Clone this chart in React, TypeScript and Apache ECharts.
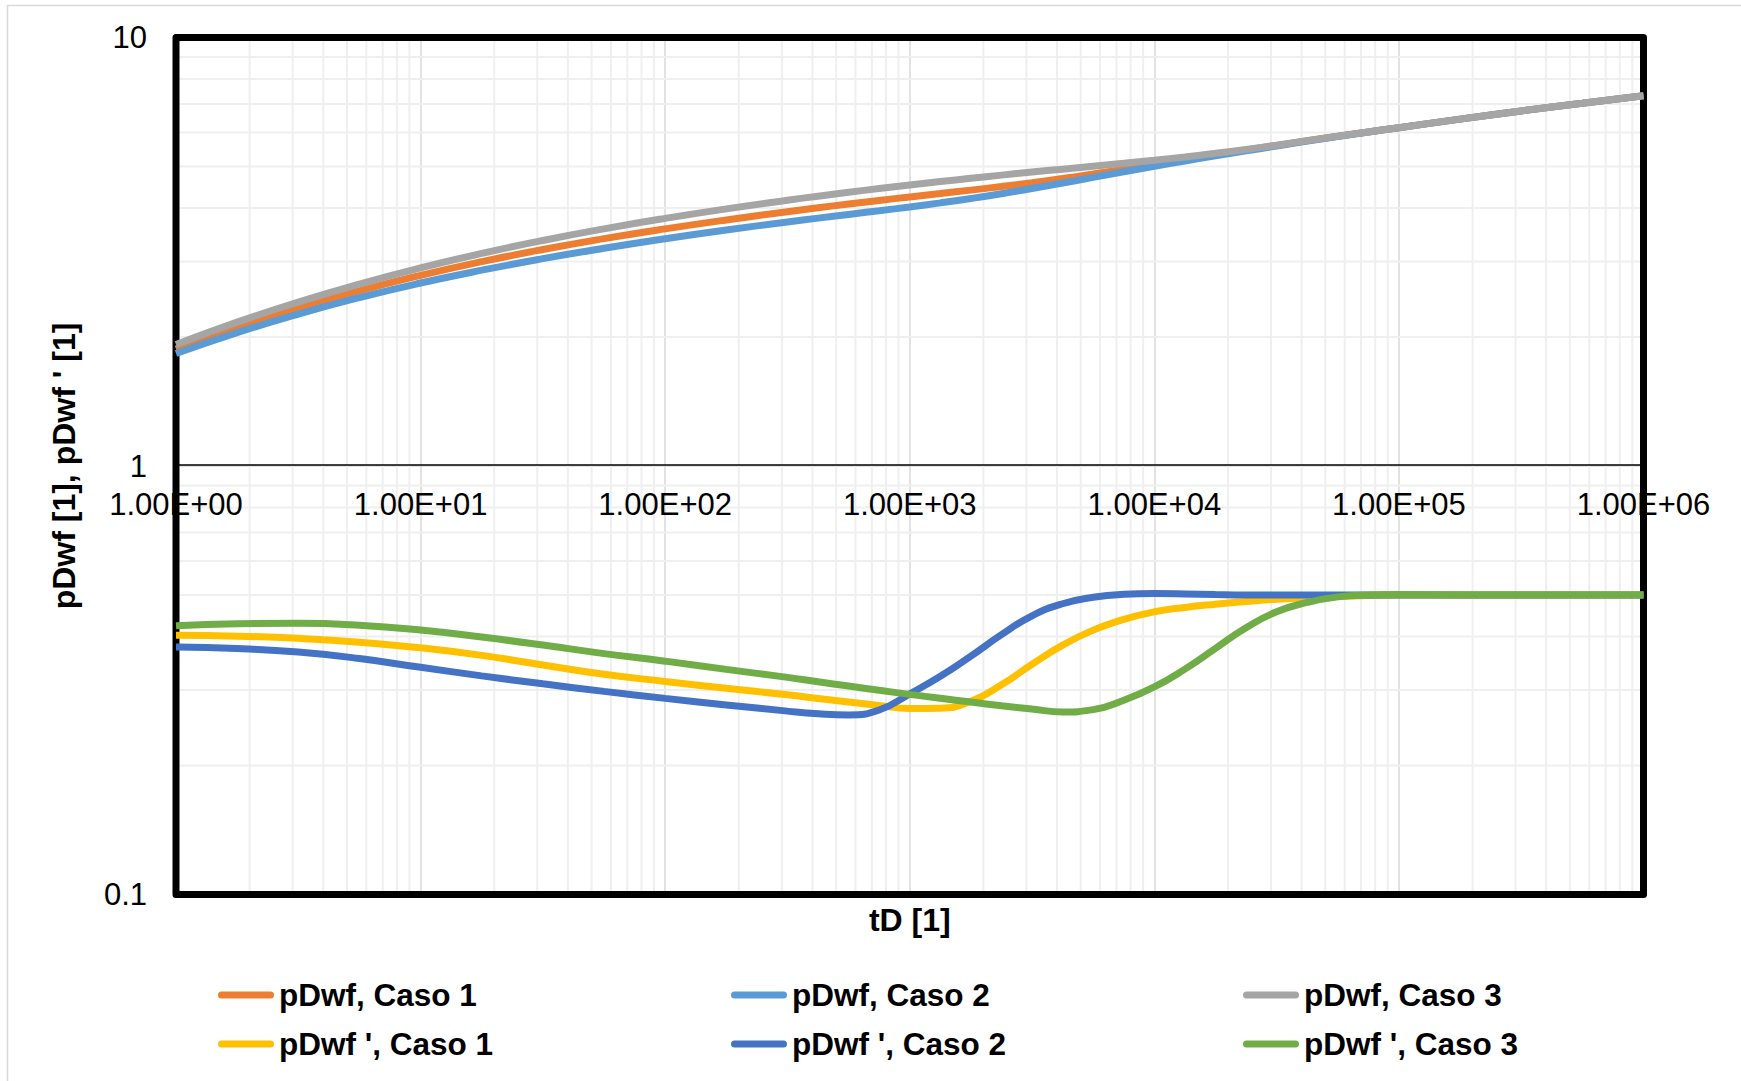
import React, { useEffect, useRef } from 'react';
import * as echarts from 'echarts';

// ---- data ----
const tD = [1, 1.778, 3.162, 5.623, 10, 17.78, 31.62, 56.23, 100, 177.8, 316.2, 421.7, 562.3, 749.9, 1000, 1334, 1778, 2371, 3162, 4217, 5623, 7499, 10000, 13335, 17783, 23714, 31623, 42170, 56234, 74989, 100000, 177828, 316228, 562341, 1000000];

const pDwfCaso1 = [1.875, 2.107, 2.337, 2.564, 2.785, 2.998, 3.201, 3.393, 3.576, 3.752, 3.922, 4.005, 4.086, 4.167, 4.246, 4.324, 4.404, 4.489, 4.582, 4.686, 4.801, 4.925, 5.055, 5.188, 5.325, 5.463, 5.6, 5.74, 5.88, 6.02, 6.16, 6.45, 6.74, 7.02, 7.31];
const pDwfCaso2 = [1.83, 2.047, 2.262, 2.472, 2.673, 2.864, 3.047, 3.222, 3.391, 3.554, 3.712, 3.789, 3.865, 3.942, 4.023, 4.112, 4.21, 4.32, 4.443, 4.576, 4.716, 4.86, 5.005, 5.15, 5.294, 5.438, 5.582, 5.73, 5.875, 6.02, 6.16, 6.45, 6.74, 7.02, 7.31];
const pDwfCaso3 = [1.92, 2.166, 2.413, 2.659, 2.9, 3.134, 3.36, 3.576, 3.783, 3.981, 4.171, 4.263, 4.353, 4.441, 4.527, 4.611, 4.693, 4.773, 4.852, 4.929, 5.006, 5.086, 5.171, 5.263, 5.366, 5.48, 5.606, 5.745, 5.885, 6.02, 6.16, 6.45, 6.74, 7.02, 7.31];

const pDwfDerCaso1 = [0.403, 0.4008, 0.3961, 0.3881, 0.3764, 0.3614, 0.3433, 0.3266, 0.3142, 0.3028, 0.2924, 0.2868, 0.2813, 0.2762, 0.2716, 0.2721, 0.2823, 0.3086, 0.3446, 0.3819, 0.414, 0.4387, 0.4568, 0.4677, 0.4758, 0.4827, 0.4888, 0.4927, 0.4959, 0.4983, 0.5, 0.5, 0.5, 0.5, 0.5];
const pDwfDerCaso2 = [0.378, 0.375, 0.368, 0.3554, 0.339, 0.3238, 0.3102, 0.2979, 0.2869, 0.277, 0.2679, 0.2642, 0.2625, 0.2695, 0.294, 0.323, 0.36, 0.404, 0.447, 0.477, 0.494, 0.502, 0.504, 0.503, 0.501, 0.5, 0.5, 0.5, 0.5, 0.5, 0.5, 0.5, 0.5, 0.5, 0.5];
const pDwfDerCaso3 = [0.424, 0.4286, 0.4295, 0.4251, 0.4141, 0.3988, 0.3821, 0.3649, 0.3504, 0.3353, 0.3211, 0.3136, 0.3065, 0.2996, 0.2931, 0.287, 0.2812, 0.2758, 0.271, 0.2667, 0.27, 0.2841, 0.305, 0.3357, 0.3753, 0.4195, 0.4569, 0.4803, 0.495, 0.5, 0.501, 0.5, 0.5, 0.5, 0.5];

const seriesNames = ['pDwf, Caso 1', 'pDwf, Caso 2', 'pDwf, Caso 3', "pDwf ', Caso 1", "pDwf ', Caso 2", "pDwf ', Caso 3"];
const seriesValues = [pDwfCaso1, pDwfCaso2, pDwfCaso3, pDwfDerCaso1, pDwfDerCaso2, pDwfDerCaso3];
const seriesColors = ['#ED7D31', '#5B9BD5', '#A5A5A5', '#FFC000', '#4472C4', '#70AD47'];

const xTickLabels = ['1.00E+00', '1.00E+01', '1.00E+02', '1.00E+03', '1.00E+04', '1.00E+05', '1.00E+06'];
const X_MIN = 1;
const X_MAX = 1000000;
const Y_MIN = 0.1;
const Y_MAX = 10;
const xTitle = 'tD [1]';
const yTitle = "pDwf [1], pDwf ' [1]";

// minor gridline positions (2..9 in each decade)
const minorMultipliers = [2, 3, 4, 5, 6, 7, 8, 9];
const xDecades = [1, 10, 100, 1000, 10000, 100000];
const yDecades = [0.1, 1];

const FONT = "'Liberation Sans', Arial, Helvetica, sans-serif";

// ---- layout ----
const GRID_LEFT = 176;
const GRID_TOP = 37.5;
const GRID_W = 1467.5;
const GRID_H = 857;
const AXIS_Y = 465; // y position of value 1

const legendCols = [218, 731, 1243];
const legendRows = [979, 1028];

export default function App() {
  const ref = useRef<HTMLDivElement>(null);

  useEffect(() => {
    document.body.style.margin = '0';
    const chart = echarts.init(ref.current as HTMLDivElement, null, { renderer: 'svg' });

    const minorX: number[] = [];
    xDecades.forEach((d) => minorMultipliers.forEach((m) => minorX.push(d * m)));
    const minorY: number[] = [];
    yDecades.forEach((d) => minorMultipliers.forEach((m) => minorY.push(d * m)));

    const dataSeries = seriesNames.map((name, i) => ({
      name,
      type: 'line',
      xAxisIndex: 0,
      yAxisIndex: 0,
      data: tD.map((t, j) => [t, seriesValues[i][j]]),
      showSymbol: false,
      symbol: 'none',
      smooth: 0.5,
      color: seriesColors[i],
      itemStyle: { color: seriesColors[i] },
      lineStyle: { color: seriesColors[i], width: 7 },
      z: 5,
      silent: true,
    }));

    const legends = seriesNames.map((name, i) => ({
      data: [name],
      left: legendCols[i % 3],
      top: legendRows[Math.floor(i / 3)],
      orient: 'horizontal',
      padding: 0,
      itemGap: 0,
      itemWidth: 56,
      itemHeight: 7,
      icon: 'path://M3.5,0H52.5A3.5,3.5,0,0,1,52.5,7H3.5A3.5,3.5,0,0,1,3.5,0Z',
      itemStyle: { borderWidth: 0 },
      selectedMode: false,
      textStyle: { fontSize: 31.5, fontWeight: 'bold', color: '#000', fontFamily: FONT },
    }));

    const option: any = {
      animation: false,
      backgroundColor: '#ffffff',
      textStyle: { fontFamily: FONT },
      graphic: [
        {
          type: 'rect',
          silent: true,
          z: -10,
          shape: { x: 7.5, y: 5.5, width: 1800, height: 1200 },
          style: { fill: 'none', stroke: '#d9d9d9', lineWidth: 1.5 },
        },
      ],
      legend: legends,
      grid: [
        {
          left: GRID_LEFT,
          top: GRID_TOP,
          width: GRID_W,
          height: GRID_H,
          show: true,
          backgroundColor: 'transparent',
          borderColor: '#000',
          borderWidth: 7,
          borderJoin: 'round',
          containLabel: false,
          outerBoundsMode: 'none',
          z: 3,
        },
        {
          left: GRID_LEFT,
          top: GRID_TOP,
          width: GRID_W,
          height: AXIS_Y - GRID_TOP,
          show: false,
          containLabel: false,
          outerBoundsMode: 'none',
        },
      ],
      xAxis: [
        {
          gridIndex: 0,
          type: 'log',
          logBase: 10,
          min: X_MIN,
          max: X_MAX,
          axisLine: { show: false },
          axisTick: { show: false },
          axisLabel: { show: false },
          splitLine: { show: true, lineStyle: { color: '#d9d9d9', width: 1.5 } },
          name: xTitle,
          nameLocation: 'middle',
          nameGap: 9,
          nameTextStyle: { fontSize: 32, fontWeight: 'bold', color: '#000', fontFamily: FONT, verticalAlign: 'top' },
        },
        {
          gridIndex: 1,
          type: 'log',
          logBase: 10,
          min: X_MIN,
          max: X_MAX,
          position: 'bottom',
          z: 4,
          axisLine: { show: true, onZero: false, lineStyle: { color: '#000', width: 1.5 } },
          axisTick: { show: false },
          splitLine: { show: false },
          axisLabel: {
            show: true,
            margin: 24,
            fontSize: 31,
            color: '#000',
            fontFamily: FONT,
            showMinLabel: true,
            showMaxLabel: true,
            formatter: (v: number) => xTickLabels[Math.round(Math.log10(v))],
          },
        },
      ],
      yAxis: [
        {
          gridIndex: 0,
          type: 'log',
          logBase: 10,
          min: Y_MIN,
          max: Y_MAX,
          axisLine: { show: false },
          axisTick: { show: false },
          axisLabel: { show: true, margin: 29, fontSize: 31, color: '#000', fontFamily: FONT, showMinLabel: true, showMaxLabel: true },
          splitLine: { show: true, lineStyle: { color: '#d9d9d9', width: 1.5 } },
          name: yTitle,
          nameLocation: 'middle',
          nameGap: 96,
          nameRotate: 90,
          nameTextStyle: { fontSize: 32, fontWeight: 'bold', color: '#000', fontFamily: FONT },
        },
        {
          gridIndex: 1,
          type: 'log',
          logBase: 10,
          min: 1,
          max: 10,
          show: false,
        },
      ],
      series: [
        {
          type: 'custom',
          xAxisIndex: 0,
          yAxisIndex: 0,
          silent: true,
          z: 1,
          data: minorX.map((v) => [v, 1]),
          renderItem: (params: any, api: any) => {
            const a = api.coord([api.value(0), Y_MIN]);
            const b = api.coord([api.value(0), Y_MAX]);
            return {
              type: 'line',
              shape: { x1: a[0], y1: a[1], x2: b[0], y2: b[1] },
              style: { stroke: '#efefef', lineWidth: 2 },
            };
          },
        },
        {
          type: 'custom',
          xAxisIndex: 0,
          yAxisIndex: 0,
          silent: true,
          z: 1,
          data: minorY.map((v) => [1, v]),
          renderItem: (params: any, api: any) => {
            const a = api.coord([X_MIN, api.value(1)]);
            const b = api.coord([X_MAX, api.value(1)]);
            return {
              type: 'line',
              shape: { x1: a[0], y1: a[1], x2: b[0], y2: b[1] },
              style: { stroke: '#efefef', lineWidth: 2 },
            };
          },
        },
        ...dataSeries,
      ],
    };

    chart.setOption(option);
    return () => chart.dispose();
  }, []);

  return <div ref={ref} style={{ width: 1741, height: 1081 }} />;
}
